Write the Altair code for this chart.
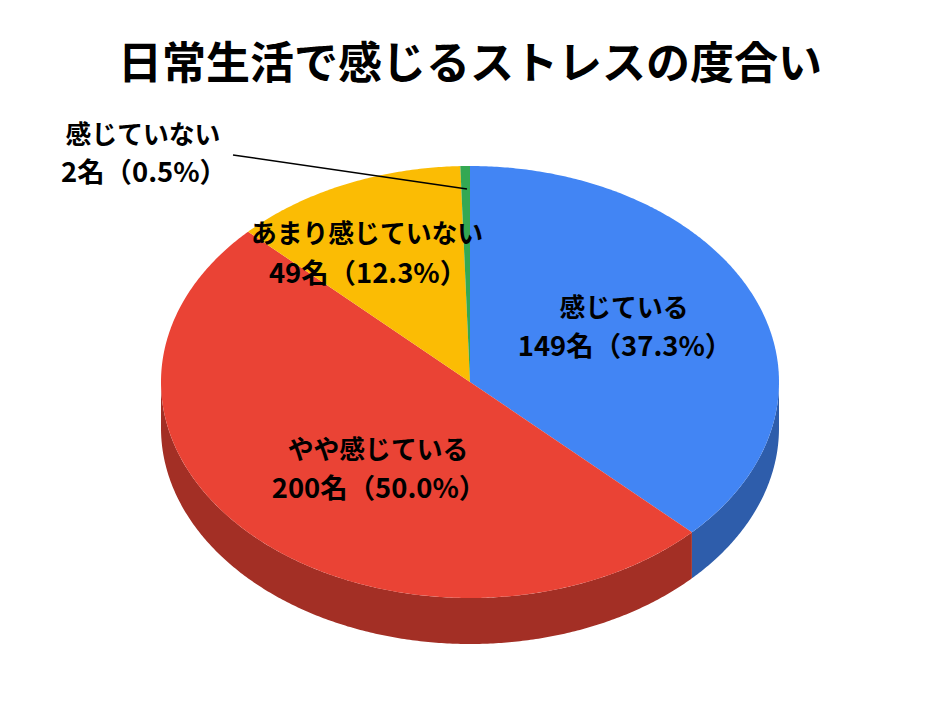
import math
import altair as alt
import pandas as pd

# ---- values ----
categories = ["感じている", "やや感じている", "あまり感じていない", "感じていない"]
counts = [149, 200, 49, 2]
shares = [37.3, 50.0, 12.3, 0.5]
top_colors = ["#4285f4", "#ea4335", "#fbbc04", "#34a853"]
side_colors = ["#2e5dab", "#a32f25", "#b08303", "#247642"]
title_text = "日常生活で感じるストレスの度合い"

# ---- layout (page pixels) ----
CX, CY, RX, RY, DEPTH = 470, 380, 309, 216, 46
PAGE_L, PLOT_W = 8, 924
PLOT_TOP, PLOT_H = 100, 590
FONT = "Noto Sans CJK JP"

x_scale = alt.Scale(domain=[(PAGE_L - CX) / RX, (PAGE_L + PLOT_W - CX) / RX], nice=False, zero=False)
y_scale = alt.Scale(domain=[(CY - PLOT_TOP - PLOT_H) / RY, (CY - PLOT_TOP) / RY], nice=False, zero=False)

# slice angles follow from the counts, clockwise from twelve o'clock
total = sum(counts)
bounds = [0.0]
for c in counts:
    bounds.append(bounds[-1] + c / total * 360)


def ell(deg):
    r = math.radians(deg)
    return math.sin(r), math.cos(r)


def arc(a, b):
    n = max(2, int(abs(b - a) * 2))
    return [ell(a + (b - a) * i / n) for i in range(n + 1)]


tops, sides = [], []
d = DEPTH / RY
for i, cat in enumerate(categories):
    a, b = bounds[i], bounds[i + 1]
    ring = [(0.0, 0.0)] + arc(a, b) + [(0.0, 0.0)]
    tops += [{"cat": cat, "o": k, "x": p[0], "y": p[1]} for k, p in enumerate(ring)]
    # front wall: visible between 90° and 270°
    sa, sb = max(a, 90), min(b, 270)
    if sa < sb:
        upper = arc(sa, sb)
        lower = [(p[0], p[1] - d) for p in reversed(upper)]
        wall = upper + lower + [upper[0]]
        sides += [{"cat": cat, "o": k, "x": p[0], "y": p[1]} for k, p in enumerate(wall)]

x_enc = alt.X("x:Q", scale=x_scale, axis=None)
y_enc = alt.Y("y:Q", scale=y_scale, axis=None)


def filled_layer(rows, colors):
    return (
        alt.Chart(pd.DataFrame(rows))
        .mark_line(filled=True, strokeWidth=0, interpolate="linear")
        .encode(
            x=x_enc,
            y=y_enc,
            order="o:Q",
            detail="cat:N",
            fill=alt.Fill("cat:N", scale=alt.Scale(domain=categories, range=colors), legend=None),
        )
    )


# leader line from the label to the thin green slice
leader = (
    alt.Chart(pd.DataFrame({"x": [(233 - CX) / RX, (467 - CX) / RX], "y": [(CY - 153) / RY, (CY - 187) / RY]}))
    .mark_line(color="black", strokeWidth=1.5)
    .encode(x=x_enc, y=y_enc)
)


def label(text, x, y, size):
    return alt.Chart(pd.DataFrame({"t": [text]})).mark_text(
        font=FONT, fontWeight="bold", fontSize=size, color="black", align="center", baseline="middle"
    ).encode(x=alt.value(x - PAGE_L), y=alt.value(y - PLOT_TOP), text="t:N")


lab = []
placements = [(624, 307, 346), (378, 449, 488), (367, 233, 273), (143, 134, 172)]
for cat, n, s, (xc, y1, y2) in zip(categories, counts, shares, placements):
    lab.append(label(cat, xc, y1, 25.8))
    lab.append(label(f"{n}名（{s:.1f}%）", xc + 1, y2, 27.4))

chart = (
    alt.layer(filled_layer(sides, side_colors), filled_layer(tops, top_colors), leader, *lab)
    .resolve_scale(fill="independent")
    .properties(
        width=PLOT_W,
        height=PLOT_H,
        padding={"left": 0, "right": 0, "top": 36, "bottom": 0},
        title=alt.TitleParams(title_text, font=FONT, fontWeight="bold", fontSize=44, color="black",
                              anchor="middle", offset=14),
        background="white",
    )
    .configure_view(stroke=None)
)

chart.save("out.html", embed_options={"renderer": "svg", "actions": False})
